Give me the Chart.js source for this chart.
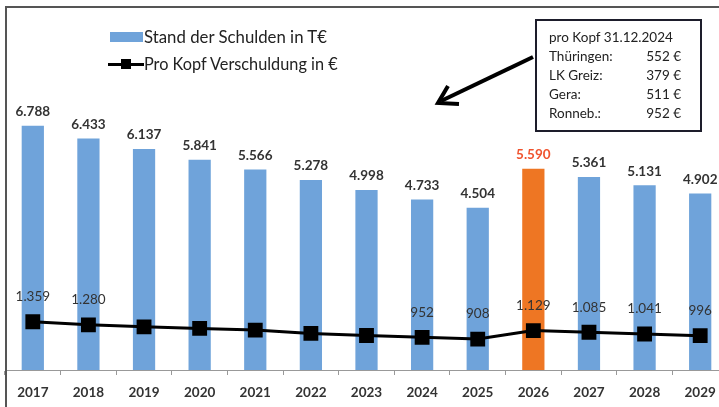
<!DOCTYPE html>
<html>
<head>
<meta charset="utf-8">
<script src="https://cdn.jsdelivr.net/npm/chart.js@4/dist/chart.umd.min.js"></script>
<style>
  html, body { margin:0; padding:0; background:#fff; overflow:hidden; width:719px; height:407px; }
  #wrap { position:absolute; left:0; top:0; width:735px; height:407px; }
  #frame { position:absolute; left:5px; top:6px; width:800px; height:500px; border-top:2px solid #555; border-left:2px solid #555; pointer-events:none; }
  .leg { position:absolute; font-family: Lato, "Liberation Sans", sans-serif; color:#222; white-space:nowrap; }
  #box { position:absolute; left:535px; top:19px; width:163px; height:109px; border:2px solid #1d1d2b; background:#fff; font-family: Lato, "Liberation Sans", sans-serif; font-size:13.5px; color:#222; }
  #box .row { position:absolute; left:12px; width:132px; height:19px; line-height:19px; white-space:nowrap; }
  #box .row .v { position:absolute; right:0; top:0; }
</style>
</head>
<body>
<div id="wrap"><canvas id="c" width="735" height="407"></canvas></div>
<div id="frame"></div>
<div class="leg" style="left:110px;top:32px;width:33px;height:10px;background:#6fa3da;"></div>
<div class="leg" style="left:144px;top:26px;font-size:16.8px;">Stand der Schulden in T€</div>
<div class="leg" style="left:108px;top:63px;width:36px;height:3px;background:#000;"></div>
<div class="leg" style="left:121px;top:59px;width:10px;height:10px;background:#000;"></div>
<div class="leg" style="left:144px;top:54px;font-size:16.3px;">Pro Kopf Verschuldung in €</div>
<svg style="position:absolute;left:0;top:0;" width="719" height="407">
  <line x1="533" y1="57" x2="441" y2="101" stroke="#000" stroke-width="4"/>
  <polyline points="448,86 438,103 459,104" fill="none" stroke="#000" stroke-width="4" stroke-linejoin="miter"/>
</svg>
<div id="box"></div>
<script>
const years = ['2017','2018','2019','2020','2021','2022','2023','2024','2025','2026','2027','2028','2029'];
const schulden = [6788, 6433, 6137, 5841, 5566, 5278, 4998, 4733, 4504, 5590, 5361, 5131, 4902];
const proKopf = [1359, 1280, 1228, 1186, 1142, 1056, 1000, 952, 908, 1129, 1085, 1041, 996];
const showProKopfLabel = [true, true, false, false, false, false, false, true, true, true, true, true, true];
const highlightYear = '2026';
const boxTitle = 'pro Kopf 31.12.2024';
const boxNames = ['Thüringen:', 'LK Greiz:', 'Gera:', 'Ronneb.:'];
const boxValues = [552, 379, 511, 952];

const blue = '#6fa3da', orange = '#ee7623';
const fmt = v => String(v).replace(/\B(?=(\d{3})+(?!\d))/g, '.');

const box = document.getElementById('box');
const rows = [[boxTitle, '']].concat(boxNames.map((n, i) => [n, boxValues[i] + ' €']));
rows.forEach((r, i) => {
  const d = document.createElement('div');
  d.className = 'row';
  d.style.top = (7 + i * 19) + 'px';
  d.textContent = r[0];
  if (r[1]) { const s = document.createElement('span'); s.className = 'v'; s.textContent = r[1]; d.appendChild(s); }
  box.appendChild(d);
});

const labelPlugin = {
  id: 'labels',
  afterDatasetsDraw(chart) {
    const ctx = chart.ctx;
    ctx.save();
    ctx.textAlign = 'center';
    ctx.textBaseline = 'middle';
    const mBar = chart.getDatasetMeta(0);
    mBar.data.forEach((el, i) => {
      ctx.font = 'bold 13.5px Lato, "Liberation Sans", sans-serif';
      ctx.fillStyle = years[i] === highlightYear ? '#f0532e' : '#333';
      ctx.fillText(fmt(schulden[i]), el.x, el.y - 14);
    });
    const mLine = chart.getDatasetMeta(1);
    mLine.data.forEach((el, i) => {
      if (!showProKopfLabel[i]) return;
      ctx.font = '13.5px Lato, "Liberation Sans", sans-serif';
      ctx.fillStyle = '#333';
      ctx.fillText(fmt(proKopf[i]), el.x, el.y - 25);
    });
    ctx.restore();
  }
};

new Chart(document.getElementById('c'), {
  data: {
    labels: years,
    datasets: [
      {
        type: 'bar', label: 'Stand der Schulden in T€', data: schulden, yAxisID: 'y',
        backgroundColor: years.map(y => y === highlightYear ? orange : blue),
        barPercentage: 0.8, categoryPercentage: 0.5, order: 2
      },
      {
        type: 'line', label: 'Pro Kopf Verschuldung in €', data: proKopf, yAxisID: 'y2',
        borderColor: '#000', borderWidth: 3, backgroundColor: '#000',
        pointStyle: 'rect', pointRadius: 10.5, pointBackgroundColor: '#000', pointBorderWidth: 0,
        tension: 0, order: 1
      }
    ]
  },
  options: {
    responsive: false, animation: false,
    layout: { autoPadding: false, padding: { left: 5, right: 7, top: 10, bottom: 0 } },
    plugins: { legend: { display: false }, tooltip: { enabled: false } },
    scales: {
      x: {
        offset: true,
        grid: { display: true, drawOnChartArea: false, drawTicks: true, tickLength: 5, color: '#999', offset: true },
        border: { display: true, color: '#999', width: 1 },
        ticks: { color: '#333', font: { family: 'Lato, "Liberation Sans", sans-serif', size: 13.5, weight: 'bold' }, padding: 10, maxRotation: 0, autoSkip: false },
        afterFit(scale) { scale.height = 37; }
      },
      y: { display: false, min: 0, max: 10000 },
      y2: { display: false, min: 100, max: 9500 }
    }
  },
  plugins: [labelPlugin]
});
</script>
</body>
</html>
